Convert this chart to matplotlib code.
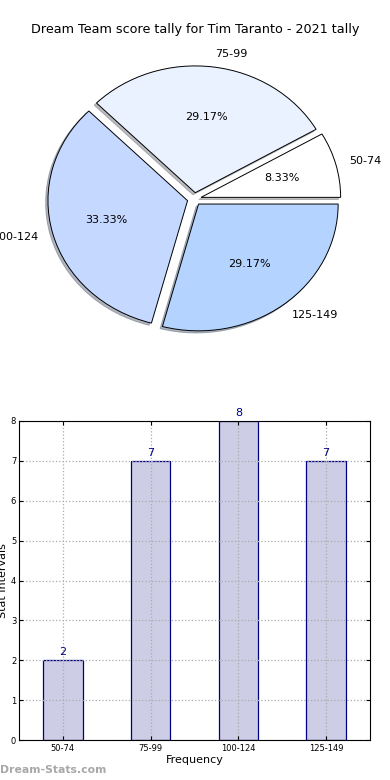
import matplotlib
matplotlib.use("Agg")
import matplotlib.pyplot as plt
import numpy as np

# data
categories = ["50-74", "75-99", "100-124", "125-149"]
counts = [2, 7, 8, 7]
pie_colors = ["#ffffff", "#eaf1ff", "#c5d8ff", "#b4d4ff"]
title = "Dream Team score tally for Tim Taranto - 2021 tally"


def run():
    fig = plt.figure(figsize=(3.9, 7.8), dpi=100)
    fig.text(0.5, 1 - 30 / 780, title, ha="center", va="center", fontsize=9.2)

    # pie (elliptical, exploded, with shadow)
    ax1 = fig.add_axes([19.8 / 390, 1 - 357.5 / 780, 349 / 390, 317 / 780])
    wedges, texts, autotexts = ax1.pie(
        counts, labels=categories, colors=pie_colors, explode=[0.05] * len(counts),
        autopct="%.2f%%", shadow={"ox": -0.012, "oy": -0.012, "shade": 0.5},
        startangle=0,
        wedgeprops={"edgecolor": "black", "linewidth": 0.7},
        textprops={"fontsize": 8})
    ax1.set_aspect("auto")
    ax1.set_xlim(-1.25, 1.25)
    ax1.set_ylim(-1.25, 1.25)

    # bar chart
    ax2 = fig.add_axes([19 / 390, 40 / 780, 351 / 390, 319 / 780])
    x = np.arange(len(categories))
    ax2.bar(x, counts, width=0.45, color="#cdcde5", edgecolor="#000080",
            linewidth=0.9, zorder=2)
    for xi, c in zip(x, counts):
        ax2.text(xi, c + 0.08, str(c), ha="center", va="bottom",
                 color="#000080", fontsize=8)
    ax2.set_xlim(-0.5, 3.5)
    ax2.set_ylim(0, 8)
    ax2.set_xticks(x)
    ax2.set_xticklabels(categories, fontsize=6)
    ax2.set_yticks(range(0, 9))
    ax2.tick_params(axis="y", labelsize=6, direction="in", length=3, pad=2,
                    right=True)
    ax2.tick_params(axis="x", direction="in", length=3, pad=3, top=True)
    ax2.grid(True, linestyle=":", color="#aaaaaa", linewidth=0.9, zorder=3)
    ax2.set_axisbelow(False)
    for sp in ax2.spines.values():
        sp.set_zorder(4)
    ax2.set_xlabel("Frequency", fontsize=8, labelpad=1)
    ax2.set_ylabel("Stat Intervals", fontsize=8, labelpad=2)

    fig.text(0.0, 1 - 770 / 780, "Dream-Stats.com", ha="left", va="center",
             fontsize=7.8, color="#a8a8a8", fontweight="bold")

    fig.savefig("out.png", dpi=100)


if __name__ == "__main__":
    run()
